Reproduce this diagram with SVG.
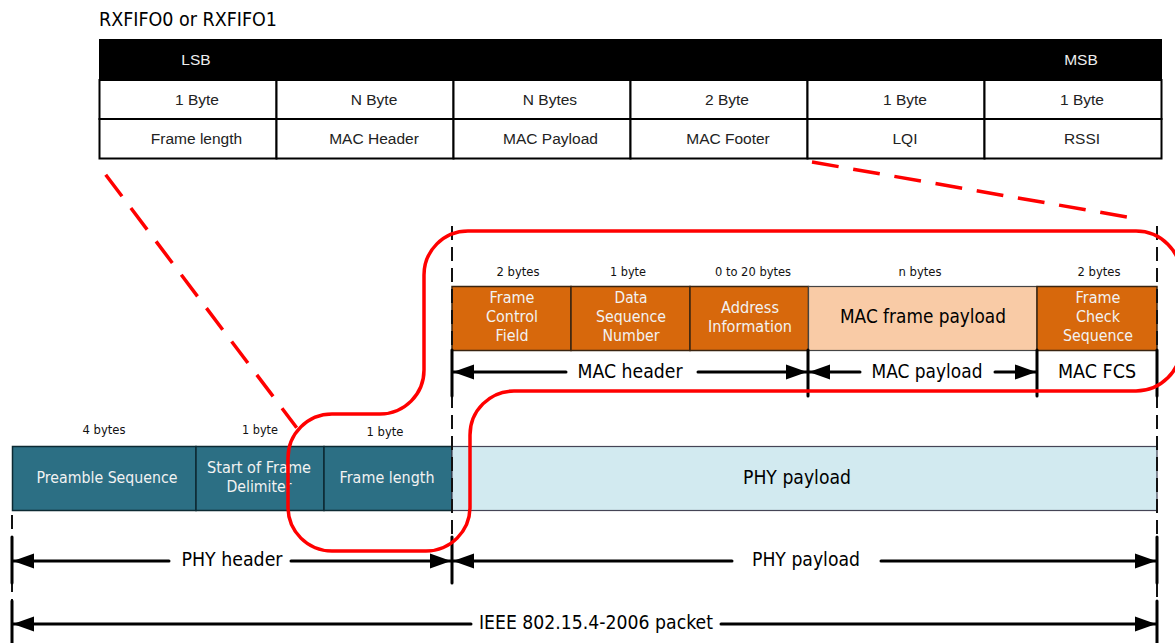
<svg xmlns="http://www.w3.org/2000/svg" width="1175" height="643" viewBox="0 0 1175 643">
<style>
text{font-family:"DejaVu Sans","Noto Sans",sans-serif;text-anchor:middle}
.a{font-family:"Liberation Sans",Arial,sans-serif;font-size:15.5px;fill:#222}
.s{font-size:12.500px;fill:#111}
.w{font-size:16.500px;fill:#f2f2f2}
.k{font-size:20px;fill:#000}
.cell{fill:#fff;stroke:#000;stroke-width:2}
.box{stroke-width:1.5}
.o{fill:#D7680C;stroke:#3a2410}
.t{fill:#2C6F84;stroke:#0c2a33}
.dash{stroke:#111;stroke-width:2;stroke-dasharray:14 7;fill:none}
.bar{stroke:#000;stroke-width:3;stroke-linecap:round;fill:none}
.ln{stroke:#000;stroke-width:3;stroke-linecap:round;fill:none}
.red{stroke:#F00;stroke-width:3.500;fill:none}
.rd{stroke:#F00;stroke-width:3.500;fill:none;stroke-dasharray:27 14.8}
</style>
<defs>
<marker id="ah" markerUnits="userSpaceOnUse" markerWidth="22" markerHeight="16" refX="21" refY="8" orient="auto-start-reverse"><path d="M0 0.500L21 8L0 15.500Z" fill="#000"/></marker>
</defs>
<g id="fifo-title"><text x="188" y="26" class="k" style="font-size:19px" textLength="178" lengthAdjust="spacingAndGlyphs">RXFIFO0 or RXFIFO1</text></g>
<g id="fifo-table">
<rect x="99" y="39" width="1063" height="41" fill="#000"/>
<rect class="cell" x="99.500" y="80" width="177" height="39"/><rect class="cell" x="276.500" y="80" width="177" height="39"/><rect class="cell" x="453.500" y="80" width="177" height="39"/><rect class="cell" x="630.500" y="80" width="177" height="39"/><rect class="cell" x="807.500" y="80" width="177" height="39"/><rect class="cell" x="984.500" y="80" width="177" height="39"/>
<rect class="cell" x="99.500" y="119" width="177" height="39.500"/><rect class="cell" x="276.500" y="119" width="177" height="39.500"/><rect class="cell" x="453.500" y="119" width="177" height="39.500"/><rect class="cell" x="630.500" y="119" width="177" height="39.500"/><rect class="cell" x="807.500" y="119" width="177" height="39.500"/><rect class="cell" x="984.500" y="119" width="177" height="39.500"/>
<text class="a" x="196" y="65" style="fill:#eee">LSB</text><text class="a" x="1081" y="65" style="fill:#eee">MSB</text>
<text class="a" x="197" y="105">1 Byte</text><text class="a" x="374" y="105">N Byte</text><text class="a" x="550" y="105">N Bytes</text><text class="a" x="727" y="105">2 Byte</text><text class="a" x="905" y="105">1 Byte</text><text class="a" x="1082" y="105">1 Byte</text>
<text class="a" x="196.500" y="144">Frame length</text><text class="a" x="374" y="144">MAC Header</text><text class="a" x="550.500" y="144">MAC Payload</text><text class="a" x="728" y="144">MAC Footer</text><text class="a" x="905" y="144">LQI</text><text class="a" x="1082" y="144">RSSI</text>
</g>
<g id="phy-sizes"><text class="s" x="104" y="434" textLength="43" lengthAdjust="spacingAndGlyphs">4 bytes</text><text class="s" x="260" y="434" textLength="36" lengthAdjust="spacingAndGlyphs">1 byte</text><text class="s" x="385" y="436" textLength="37" lengthAdjust="spacingAndGlyphs">1 byte</text></g>
<g id="preamble"><rect class="box t" x="12.500" y="446.500" width="183.500" height="64"/><text class="w" x="107" y="483" textLength="141" lengthAdjust="spacingAndGlyphs">Preamble Sequence</text></g>
<g id="sfd"><rect class="box t" x="196" y="446.500" width="128" height="64"/><text class="w" x="259" y="473" textLength="104" lengthAdjust="spacingAndGlyphs">Start of Frame</text><text class="w" x="259" y="492" textLength="65" lengthAdjust="spacingAndGlyphs">Delimiter</text></g>
<g id="frame-length"><rect class="box t" x="324" y="446.500" width="128" height="64"/><text class="w" x="387" y="483" textLength="95" lengthAdjust="spacingAndGlyphs">Frame length</text></g>
<g id="phy-payload-box"><rect x="452" y="446.500" width="705" height="64" fill="#D2EAF0" stroke="#445" stroke-width="1.200"/><text class="k" x="797" y="484" textLength="108" lengthAdjust="spacingAndGlyphs">PHY payload</text></g>
<g id="mac-sizes"><text class="s" x="518" y="276" textLength="43" lengthAdjust="spacingAndGlyphs">2 bytes</text><text class="s" x="628" y="276" textLength="36" lengthAdjust="spacingAndGlyphs">1 byte</text><text class="s" x="753" y="276" textLength="76" lengthAdjust="spacingAndGlyphs">0 to 20 bytes</text><text class="s" x="920" y="276" textLength="43" lengthAdjust="spacingAndGlyphs">n bytes</text><text class="s" x="1099" y="276" textLength="43" lengthAdjust="spacingAndGlyphs">2 bytes</text></g>
<g id="fcf"><rect class="box o" x="452" y="286.500" width="119" height="64"/><text class="w" x="512" y="303" textLength="45" lengthAdjust="spacingAndGlyphs">Frame</text><text class="w" x="512" y="322" textLength="52" lengthAdjust="spacingAndGlyphs">Control</text><text class="w" x="512" y="341" textLength="33" lengthAdjust="spacingAndGlyphs">Field</text></g>
<g id="dsn"><rect class="box o" x="571" y="286.500" width="119" height="64"/><text class="w" x="631" y="303" textLength="33" lengthAdjust="spacingAndGlyphs">Data</text><text class="w" x="631" y="322" textLength="70" lengthAdjust="spacingAndGlyphs">Sequence</text><text class="w" x="631" y="341" textLength="57" lengthAdjust="spacingAndGlyphs">Number</text></g>
<g id="addr"><rect class="box o" x="690" y="286.500" width="118.500" height="64"/><text class="w" x="750" y="313" textLength="58" lengthAdjust="spacingAndGlyphs">Address</text><text class="w" x="750" y="332" textLength="84" lengthAdjust="spacingAndGlyphs">Information</text></g>
<g id="mac-frame-payload"><rect x="808.500" y="286.500" width="228.500" height="64" fill="#F9CBA6" stroke="#444" stroke-width="1.200"/><text class="k" x="923" y="323" textLength="166" lengthAdjust="spacingAndGlyphs">MAC frame payload</text></g>
<g id="fcs"><rect class="box o" x="1037" y="286.500" width="120" height="64"/><text class="w" x="1098" y="303" textLength="45" lengthAdjust="spacingAndGlyphs">Frame</text><text class="w" x="1098" y="322" textLength="44" lengthAdjust="spacingAndGlyphs">Check</text><text class="w" x="1098" y="341" textLength="70" lengthAdjust="spacingAndGlyphs">Sequence</text></g>
<g id="connectors">
<path class="dash" d="M452 226V537M12 515V643M1157 226V643"/>
<path class="bar" d="M452 350V396M808 350V396M1037 350V396M1157 350V396M12 537V583M452 537V583M1157 537V583M12 601V643M1157 601V643"/>
<path class="ln" marker-start="url(#ah)" d="M453 372H566"/><path class="ln" marker-end="url(#ah)" d="M698 372H807"/>
<path class="ln" marker-start="url(#ah)" d="M809 372H860"/><path class="ln" marker-end="url(#ah)" d="M995 372H1036"/>
<path class="ln" marker-start="url(#ah)" d="M13 561H169"/><path class="ln" marker-end="url(#ah)" d="M291 561H451"/>
<path class="ln" marker-start="url(#ah)" d="M453 561H732"/><path class="ln" marker-end="url(#ah)" d="M881 561H1156"/>
<path class="ln" marker-start="url(#ah)" d="M13 624H471"/><path class="ln" marker-end="url(#ah)" d="M721 624H1156"/>
<path class="red" d="M468 231H1136A45 45 0 0 1 1181 276V346A45 45 0 0 1 1136 391H514A44 44 0 0 0 470 435V507A44 44 0 0 1 426 551H332A44 44 0 0 1 288 507V458A44 44 0 0 1 332 414H380A44 44 0 0 0 424 370V275A44 44 0 0 1 468 231Z"/>
<path class="rd" d="M105.700 174.700L296.700 427.700"/>
<path class="rd" d="M812 162L1127 217"/>
</g>
<g id="dim-labels"><text class="k" x="630" y="378" textLength="105" lengthAdjust="spacingAndGlyphs">MAC header</text><text class="k" x="927" y="378" textLength="111" lengthAdjust="spacingAndGlyphs">MAC payload</text><text class="k" x="1097" y="378" textLength="78" lengthAdjust="spacingAndGlyphs">MAC FCS</text><text class="k" x="232" y="566" textLength="101" lengthAdjust="spacingAndGlyphs">PHY header</text><text class="k" x="806" y="566" textLength="108" lengthAdjust="spacingAndGlyphs">PHY payload</text><text class="k" x="596" y="629" textLength="234" lengthAdjust="spacingAndGlyphs">IEEE 802.15.4-2006 packet</text></g>
</svg>
